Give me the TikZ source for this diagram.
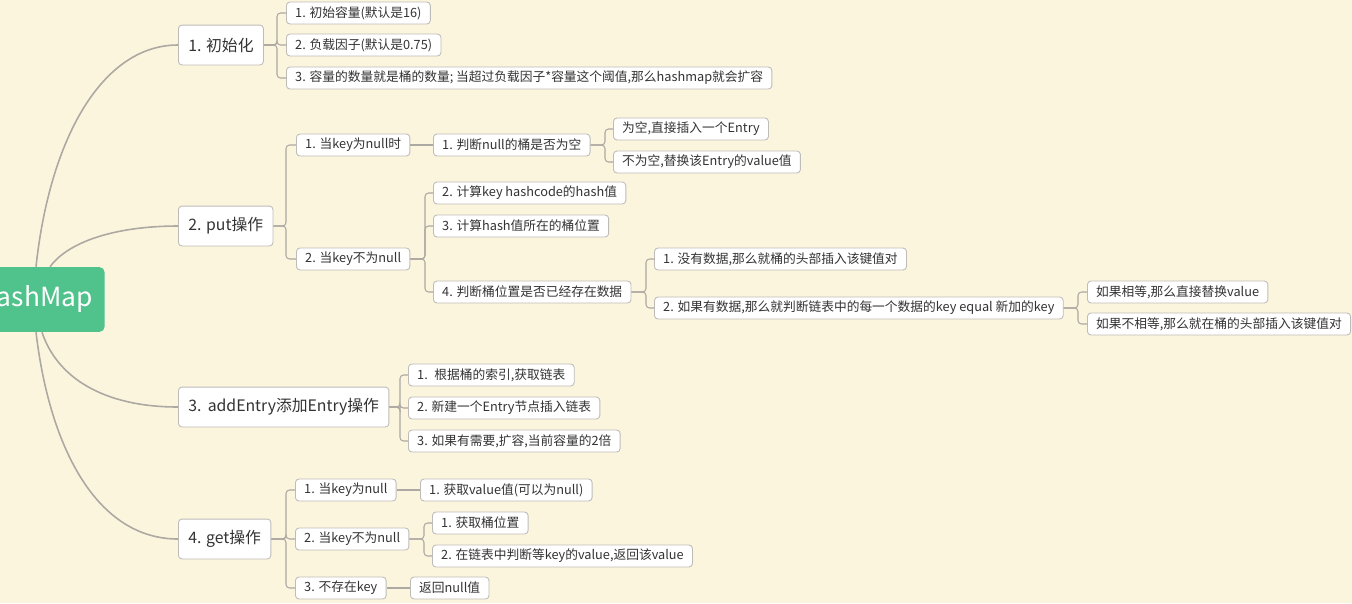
\documentclass[tikz,border=0pt]{standalone}
\usepackage{fontspec}
\usepackage{xcolor}
\setmainfont{Noto Sans CJK SC}
\definecolor{paper}{RGB}{252,245,222}
\definecolor{rootgreen}{RGB}{80,194,139}
\definecolor{boxgray}{RGB}{190,188,185}
\definecolor{linegray}{RGB}{172,168,162}
\definecolor{textgray}{RGB}{51,51,51}

\begin{document}
\begin{tikzpicture}[x=0.02cm, y=-0.02cm,
    leaf/.style={draw=boxgray, fill=white, rounded corners=2pt, anchor=west,
                 line width=0.5pt, text=textgray, inner xsep=5pt, inner ysep=0pt,
                 minimum height=12.5pt, font=\fontsize{7.25}{8}\selectfont},
    topic/.style={leaf, minimum height=22.7pt, inner xsep=5.6pt,
                  font=\fontsize{9}{10}\selectfont},
    hub/.style={fill=rootgreen, rounded corners=3pt, anchor=east, text=white,
                minimum height=36.9pt, inner xsep=6.8pt,
                font=\fontsize{15}{17}\selectfont},
    link/.style={draw=linegray, line width=0.6pt, rounded corners=2pt},
    trunk/.style={draw=linegray, line width=0.9pt}]
  \useasboundingbox (0, 0) rectangle (1352, 603);
  \fill [paper] (0, 0) rectangle (1352, 603);
  \clip (0, 0) rectangle (1352, 603);

  % Draw root.
  \node [hub] (hash) at (105, 299.5) {HashMap};

  % Draw first level.
  \node [topic] (init) at (178, 45) {1. 初始化};
  \node [topic] (put) at (178, 226) {2. put操作};
  \node [topic] (add) at (178, 407) {3.\hspace{0.4em}addEntry添加Entry操作};
  \node [topic] (get) at (178, 539) {4. get操作};

  \draw [trunk] (hash.north east) ++(-69, 0)
        .. controls +(14, -130) and +(-75, 0) .. (init.west);
  \draw [trunk] (hash.north east) ++(-55, 0)
        .. controls +(20, -27) and +(-58, 0) .. (put.west);
  \draw [trunk] (hash.south east) ++(-63, 0)
        .. controls +(15, 45) and +(-75, 0) .. (add.west);
  \draw [trunk] (hash.south east) ++(-69, 0)
        .. controls +(14, 118) and +(-80, 0) .. (get.west);

  % Draw init branch.
  \node [leaf] (init1) at (286, 13) {1. 初始容量(默认是16)};
  \node [leaf] (init2) at (286, 45) {2. 负载因子(默认是0.75)};
  \node [leaf] (init3) at (286, 78)
        {3. 容量的数量就是桶的数量; 当超过负载因子*容量这个阈值,那么hashmap就会扩容};
  \draw [link] (init1.west) -- ++(-9, 0) |- (init.east);
  \draw [link] (init2.west) -- ++(-9, 0) |- (init.east);
  \draw [link] (init3.west) -- ++(-9, 0) |- (init.east);

  % Draw put branch.
  \node [leaf] (put1) at (296, 145) {1. 当key为null时};
  \node [leaf] (put2) at (296, 259) {2. 当key不为null};
  \draw [link] (put1.west) -- ++(-10, 0) |- (put.east);
  \draw [link] (put2.west) -- ++(-10, 0) |- (put.east);

  \node [leaf] (put11) at (433, 145) {1. 判断null的桶是否为空};
  \draw [link] (put11.west) -- (put1.east);
  \node [leaf] (put111) at (613, 129) {为空,直接插入一个Entry};
  \node [leaf] (put112) at (613, 162) {不为空,替换该Entry的value值};
  \draw [link] (put111.west) -- ++(-8, 0) |- (put11.east);
  \draw [link] (put112.west) -- ++(-8, 0) |- (put11.east);

  \node [leaf] (put21) at (433, 193) {2. 计算key hashcode的hash值};
  \node [leaf] (put22) at (433, 226) {3. 计算hash值所在的桶位置};
  \node [leaf] (put23) at (433, 292) {4. 判断桶位置是否已经存在数据};
  \draw [link] (put21.west) -- ++(-8, 0) |- (put2.east);
  \draw [link] (put22.west) -- ++(-8, 0) |- (put2.east);
  \draw [link] (put23.west) -- ++(-8, 0) |- (put2.east);

  \node [leaf] (put231) at (654, 259) {1. 没有数据,那么就桶的头部插入该键值对};
  \node [leaf] (put232) at (654, 308)
        {2. 如果有数据,那么就判断链表中的每一个数据的key equal 新加的key};
  \draw [link] (put231.west) -- ++(-8, 0) |- (put23.east);
  \draw [link] (put232.west) -- ++(-8, 0) |- (put23.east);

  \node [leaf] (put2321) at (1087, 292) {如果相等,那么直接替换value};
  \node [leaf] (put2322) at (1087, 324) {如果不相等,那么就在桶的头部插入该键值对};
  \draw [link] (put2321.west) -- ++(-9, 0) |- (put232.east);
  \draw [link] (put2322.west) -- ++(-9, 0) |- (put232.east);

  % Draw addEntry branch.
  \node [leaf] (add1) at (408, 375) {1.~ 根据桶的索引,获取链表};
  \node [leaf] (add2) at (408, 408) {2. 新建一个Entry节点插入链表};
  \node [leaf] (add3) at (408, 441) {3. 如果有需要,扩容,当前容量的2倍};
  \draw [link] (add1.west) -- ++(-8, 0) |- (add.east);
  \draw [link] (add2.west) -- ++(-8, 0) |- (add.east);
  \draw [link] (add3.west) -- ++(-8, 0) |- (add.east);

  % Draw get branch.
  \node [leaf] (get1) at (295, 490) {1. 当key为null};
  \node [leaf] (get2) at (295, 539) {2. 当key不为null};
  \node [leaf] (get3) at (295, 588) {3. 不存在key};
  \draw [link] (get1.west) -- ++(-9, 0) |- (get.east);
  \draw [link] (get2.west) -- ++(-9, 0) |- (get.east);
  \draw [link] (get3.west) -- ++(-9, 0) |- (get.east);

  \node [leaf] (get11) at (420, 490) {1. 获取value值(可以为null)};
  \draw [link] (get11.west) -- (get1.east);
  \node [leaf] (get21) at (432, 523) {1. 获取桶位置};
  \node [leaf] (get22) at (432, 556) {2. 在链表中判断等key的value,返回该value};
  \draw [link] (get21.west) -- ++(-8, 0) |- (get2.east);
  \draw [link] (get22.west) -- ++(-8, 0) |- (get2.east);
  \node [leaf] (get31) at (410, 588) {返回null值};
  \draw [link] (get31.west) -- (get3.east);
\end{tikzpicture}
\end{document}
